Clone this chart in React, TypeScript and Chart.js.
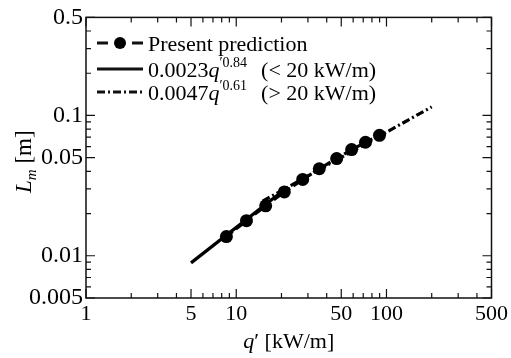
import { useEffect, useRef } from 'react';
import { Chart, registerables } from 'chart.js';

Chart.register(...registerables);

const FONT = '"Liberation Serif", "Times New Roman", serif';

// Present prediction points
const qPoints = [8.6, 11.7, 15.7, 20.9, 27.7, 35.7, 46.6, 58.6, 72.5, 89.8];
const lmPoints = [0.0137, 0.0178, 0.0227, 0.0285, 0.035, 0.0417, 0.0493, 0.0571, 0.0644, 0.0722];

// 0.0023 q'^0.84 (< 20 kW/m)
const lowFitQ = [5, 20];
const lowFitL = [0.0089, 0.0285];

// 0.0047 q'^0.61 (> 20 kW/m)
const highFitQ = [15, 200];
const highFitL = [0.0245, 0.115];

const xTicks = [1, 5, 10, 50, 100, 500];
const xMinor = [2, 3, 4, 6, 7, 8, 9, 20, 30, 40, 60, 70, 80, 90, 200, 300, 400];
const yTicks = [0.005, 0.01, 0.05, 0.1, 0.5];
const yMinor = [0.006, 0.007, 0.008, 0.009, 0.02, 0.03, 0.04, 0.06, 0.07, 0.08, 0.09, 0.2, 0.3, 0.4];

const toPts = (xs: number[], ys: number[]) => xs.map((x, i) => ({ x, y: ys[i] }));

const drawRich = (ctx: CanvasRenderingContext2D, x: number, y: number, parts: { t: string; f: string; dy?: number; gap?: number }[]) => {
  let cx = x;
  for (const p of parts) {
    ctx.font = p.f;
    cx += p.gap || 0;
    ctx.fillText(p.t, cx, y + (p.dy || 0));
    cx += ctx.measureText(p.t).width;
  }
  return cx;
};

const measureRich = (ctx: CanvasRenderingContext2D, parts: { t: string; f: string; gap?: number }[]) => {
  let w = 0;
  for (const p of parts) {
    ctx.font = p.f;
    w += (p.gap || 0) + ctx.measureText(p.t).width;
  }
  return w;
};

const decorPlugin = {
  id: 'decor',
  afterDraw(chart: any) {
    const { ctx, chartArea: a, scales } = chart;
    const xs = scales.x;
    const ys = scales.y;
    ctx.save();
    ctx.strokeStyle = '#111';
    ctx.fillStyle = '#000';
    ctx.lineWidth = 1.5;
    ctx.setLineDash([]);
    ctx.strokeRect(a.left, a.top, a.right - a.left, a.bottom - a.top);
    const majorLen = 9;
    const minorLen = 5;
    ctx.lineWidth = 1.2;
    const xTick = (v: number, len: number) => {
      const px = xs.getPixelForValue(v);
      ctx.beginPath();
      ctx.moveTo(px, a.bottom);
      ctx.lineTo(px, a.bottom - len);
      ctx.moveTo(px, a.top);
      ctx.lineTo(px, a.top + len);
      ctx.stroke();
    };
    const yTick = (v: number, len: number) => {
      const py = ys.getPixelForValue(v);
      ctx.beginPath();
      ctx.moveTo(a.left, py);
      ctx.lineTo(a.left + len, py);
      ctx.moveTo(a.right, py);
      ctx.lineTo(a.right - len, py);
      ctx.stroke();
    };
    xTicks.forEach((v) => xTick(v, majorLen));
    xMinor.forEach((v) => xTick(v, minorLen));
    yTicks.forEach((v) => yTick(v, majorLen));
    yMinor.forEach((v) => yTick(v, minorLen));

    // Legend
    const reg = `22px ${FONT}`;
    const ital = `italic 22px ${FONT}`;
    const sup = `14px ${FONT}`;
    const lx0 = 97;
    const lx1 = 143;
    const tx = 148;
    const rows = [51, 77, 100];
    ctx.textBaseline = 'alphabetic';
    ctx.textAlign = 'left';
    ctx.lineWidth = 3.2;
    // row 1
    let ly = rows[0] - 8;
    ctx.beginPath();
    ctx.moveTo(lx0, ly);
    ctx.lineTo(lx0 + 11, ly);
    ctx.moveTo(lx1 - 11, ly);
    ctx.lineTo(lx1, ly);
    ctx.stroke();
    ctx.beginPath();
    ctx.arc((lx0 + lx1) / 2, ly, 6, 0, Math.PI * 2);
    ctx.fill();
    drawRich(ctx, tx, rows[0], [{ t: 'Present prediction', f: reg }]);
    // row 2
    ly = rows[1] - 8;
    ctx.beginPath();
    ctx.moveTo(lx0, ly);
    ctx.lineTo(lx1, ly);
    ctx.stroke();
    drawRich(ctx, tx, rows[1], [
      { t: '0.0023', f: reg },
      { t: 'q', f: ital },
      { t: '\u2032', f: sup, dy: -10 },
      { t: '0.84', f: sup, dy: -10 },
      { t: '(< 20 kW/m)', f: reg, gap: 14 },
    ]);
    // row 3
    ly = rows[2] - 8;
    ctx.beginPath();
    ctx.setLineDash([8, 3, 2, 3]);
    ctx.moveTo(lx0, ly);
    ctx.lineTo(lx1, ly);
    ctx.stroke();
    ctx.setLineDash([]);
    drawRich(ctx, tx, rows[2], [
      { t: '0.0047', f: reg },
      { t: 'q', f: ital },
      { t: '\u2032', f: sup, dy: -10 },
      { t: '0.61', f: sup, dy: -10 },
      { t: '(> 20 kW/m)', f: reg, gap: 14 },
    ]);

    // x title
    const xParts = [
      { t: 'q', f: ital },
      { t: '\u2032 [kW/m]', f: reg },
    ];
    const xw = measureRich(ctx, xParts);
    drawRich(ctx, (a.left + a.right) / 2 - xw / 2, 348, xParts);

    // y title
    const yParts = [
      { t: 'L', f: `italic 23px ${FONT}` },
      { t: 'm', f: `italic 15px ${FONT}`, dy: 5 },
      { t: ' [m]', f: `23px ${FONT}` },
    ];
    const yw = measureRich(ctx, yParts);
    ctx.translate(31, (a.top + a.bottom) / 2 + 4);
    ctx.rotate(-Math.PI / 2);
    drawRich(ctx, -yw / 2, 0, yParts);
    ctx.restore();
  },
};

export default function App() {
  const ref = useRef<HTMLCanvasElement>(null);
  useEffect(() => {
    const chart = new Chart(ref.current as HTMLCanvasElement, {
      type: 'scatter',
      data: {
        datasets: [
          {
            label: '0.0023q^0.84',
            data: toPts(lowFitQ, lowFitL),
            showLine: true,
            borderColor: '#000',
            borderWidth: 3.2,
            pointRadius: 0,
          },
          {
            label: '0.0047q^0.61',
            data: toPts(highFitQ, highFitL),
            showLine: true,
            borderColor: '#000',
            borderWidth: 3.2,
            borderDash: [8, 3, 2, 3],
            pointRadius: 0,
          },
          {
            label: 'Present prediction',
            data: toPts(qPoints, lmPoints),
            showLine: true,
            borderColor: '#000',
            backgroundColor: '#000',
            borderWidth: 3.2,
            borderDash: [8, 4],
            pointRadius: 6.5,
            pointBorderWidth: 0,
          },
        ],
      },
      options: {
        responsive: false,
        animation: false,
        devicePixelRatio: 1,
        layout: { padding: { top: 16, right: 16, left: 0, bottom: 0 } },
        plugins: { legend: { display: false }, tooltip: { enabled: false } },
        scales: {
          x: {
            type: 'logarithmic',
            min: 1,
            max: 500,
            afterBuildTicks: (s: any) => {
              s.ticks = xTicks.map((v) => ({ value: v }));
            },
            afterFit: (s: any) => {
              s.height = 60;
            },
            grid: { display: false, drawTicks: false },
            border: { display: false },
            ticks: {
              autoSkip: false,
              maxRotation: 0,
              padding: 3,
              color: '#000',
              font: { family: FONT, size: 22 },
              callback: (v: any) => String(v),
            },
          },
          y: {
            type: 'logarithmic',
            min: 0.005,
            max: 0.5,
            afterBuildTicks: (s: any) => {
              s.ticks = yTicks.map((v) => ({ value: v }));
            },
            afterFit: (s: any) => {
              s.width = 86;
            },
            grid: { display: false, drawTicks: false },
            border: { display: false },
            ticks: {
              autoSkip: false,
              padding: 3,
              color: '#000',
              font: { family: FONT, size: 24 },
              callback: (v: any) => String(v),
            },
          },
        },
      },
      plugins: [decorPlugin],
    });
    return () => chart.destroy();
  }, []);
  return (
    <div style={{ position: 'absolute', left: 0, top: 0, width: 511, height: 358, background: '#fff' }}>
      <canvas ref={ref} width={511} height={358} style={{ display: 'block' }} />
    </div>
  );
}
